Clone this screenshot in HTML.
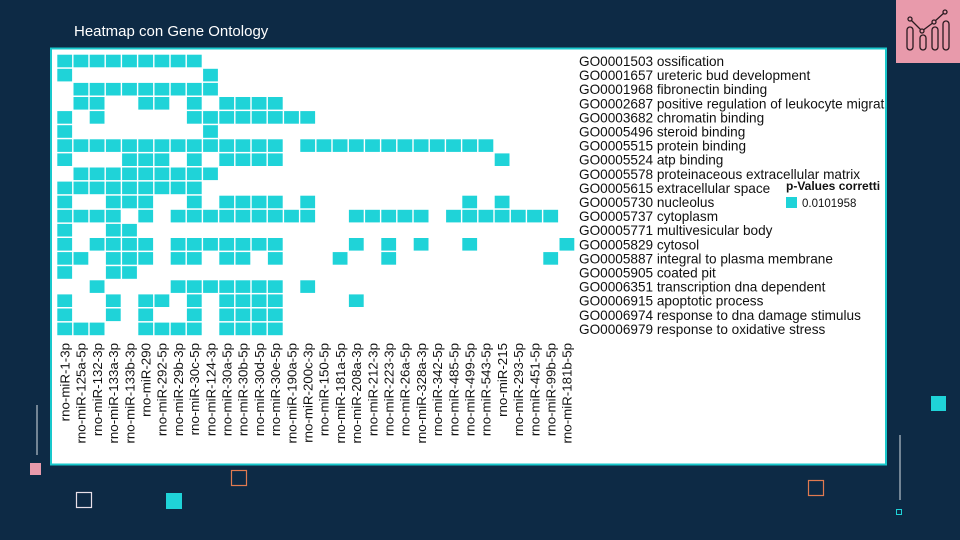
<!DOCTYPE html>
<html><head><meta charset="utf-8"><style>
body{margin:0;width:960px;height:540px;background:#0d2a45;overflow:hidden;font-family:"Liberation Sans",Arial,sans-serif}
</style></head><body>
<svg width="960" height="540" xmlns="http://www.w3.org/2000/svg" style="position:absolute;left:0;top:0">
<defs><clipPath id="cp"><rect x="52" y="49" width="833" height="414"/></clipPath></defs>
<rect width="960" height="540" fill="#0d2a45"/>
<text x="74" y="36" fill="#ffffff" font-size="15" font-family="Liberation Sans,Arial,sans-serif">Heatmap con Gene Ontology</text>
<rect x="896" y="0" width="64" height="63" fill="#e89aab"/>
<g fill="none" stroke="#2a1a20" stroke-width="1.3">
<rect x="907" y="27" width="6" height="23" rx="3"/><rect x="920" y="35" width="6" height="15" rx="3"/><rect x="932" y="27" width="6" height="23" rx="3"/><rect x="943" y="21" width="6" height="29" rx="3"/>
<polyline points="910,19 922,31 934,22 945,12"/>
<circle cx="910" cy="19" r="2" fill="#e89aab"/><circle cx="922" cy="31" r="2" fill="#e89aab"/><circle cx="934" cy="22" r="2" fill="#e89aab"/><circle cx="945" cy="12" r="2" fill="#e89aab"/>
</g>
<rect x="51" y="48.5" width="835" height="416" fill="#ffffff" stroke="#19c8cc" stroke-width="2"/>
<g id="cells" fill="#1fd3d8"></g>
<g clip-path="url(#cp)"><g font-size="13.6" fill="#111" font-family="Liberation Sans,Arial,sans-serif" id="rows"></g></g>
<g font-size="13.3" fill="#111" font-family="Liberation Sans,Arial,sans-serif" id="cols"></g>
<text x="786" y="190" font-size="12" font-weight="bold" fill="#111">p-Values corretti</text>
<rect x="786" y="197" width="11" height="11" fill="#1fd3d8"/>
<text x="802" y="207" font-size="11.5" fill="#111">0.0101958</text>
<line x1="37" y1="405" x2="37" y2="455" stroke="#d8dde3" stroke-width="1"/>
<rect x="30" y="463" width="11" height="12" fill="#e89aab"/>
<rect x="76.5" y="492.5" width="15" height="15" fill="none" stroke="#e8e0e8" stroke-width="1.2"/>
<rect x="166" y="493" width="16" height="16" fill="#1fd3d8"/>
<rect x="231.5" y="470.5" width="15" height="15" fill="none" stroke="#e07a50" stroke-width="1.2"/>
<rect x="931" y="396" width="15" height="15" fill="#1fd3d8"/>
<line x1="900" y1="435" x2="900" y2="500" stroke="#d8dde3" stroke-width="1"/>
<rect x="896.5" y="509.5" width="5" height="5" fill="none" stroke="#1fd3d8" stroke-width="1"/>
<rect x="808.5" y="480.5" width="15" height="15" fill="none" stroke="#e07a50" stroke-width="1.2"/>
</svg>
<script>
var R=[[0,1,2,3,4,5,6,7,8],[0,9],[1,2,3,4,5,6,7,8,9],[1,2,5,6,8,10,11,12,13],[0,2,8,9,10,11,12,13,14,15],[0,9],
[0,1,2,3,4,5,6,7,8,9,10,11,12,13,15,16,17,18,19,20,21,22,23,24,25,26],[0,4,5,6,8,10,11,12,13,27],[1,2,3,4,5,6,7,8,9],[0,1,2,3,4,5,6,7,8],
[0,3,4,5,8,10,11,12,13,15,25,27],[0,1,2,3,5,7,8,9,10,11,12,13,14,15,18,19,20,21,22,24,25,26,27,28,29,30],[0,3,4],
[0,2,3,4,5,7,8,9,10,11,12,13,18,20,22,25,31],[0,1,3,4,5,7,8,10,11,13,17,20,30],[0,3,4],[2,7,8,9,10,11,12,13,15],
[0,3,5,6,8,10,11,12,13,18],[0,3,5,8,10,11,12,13],[0,1,2,5,6,7,8,10,11,12,13]];
var L=["GO0001503 ossification","GO0001657 ureteric bud development","GO0001968 fibronectin binding","GO0002687 positive regulation of leukocyte migration","GO0003682 chromatin binding","GO0005496 steroid binding","GO0005515 protein binding","GO0005524 atp binding","GO0005578 proteinaceous extracellular matrix","GO0005615 extracellular space","GO0005730 nucleolus","GO0005737 cytoplasm","GO0005771 multivesicular body","GO0005829 cytosol","GO0005887 integral to plasma membrane","GO0005905 coated pit","GO0006351 transcription dna dependent","GO0006915 apoptotic process","GO0006974 response to dna damage stimulus","GO0006979 response to oxidative stress"];
var C=["1-3p","125a-5p","132-3p","133a-3p","133b-3p","290","292-5p","29b-3p","30c-5p","124-3p","30a-5p","30b-5p","30d-5p","30e-5p","190a-5p","200c-3p","150-5p","181a-5p","208a-3p","212-3p","223-3p","26a-5p","328a-3p","342-5p","485-5p","499-5p","543-5p","215","293-5p","451-5p","99b-5p","181b-5p"];
var ns="http://www.w3.org/2000/svg",g=document.getElementById("cells"),gr=document.getElementById("rows"),gc=document.getElementById("cols");
R.forEach(function(r,i){r.forEach(function(c){var e=document.createElementNS(ns,"rect");e.setAttribute("x",57.3+16.2*c);e.setAttribute("y",54.7+14.1*i);e.setAttribute("width",14.8);e.setAttribute("height",12.6);g.appendChild(e);});
var t=document.createElementNS(ns,"text");t.setAttribute("x",579);t.setAttribute("y",66+14.1*i);t.textContent=L[i];gr.appendChild(t);});
C.forEach(function(c,k){var t=document.createElementNS(ns,"text");var x=69.5+16.2*k;t.setAttribute("transform","translate("+x+",343) rotate(-90)");t.setAttribute("text-anchor","end");t.textContent="rno-miR-"+c;gc.appendChild(t);});
</script>
</body></html>
